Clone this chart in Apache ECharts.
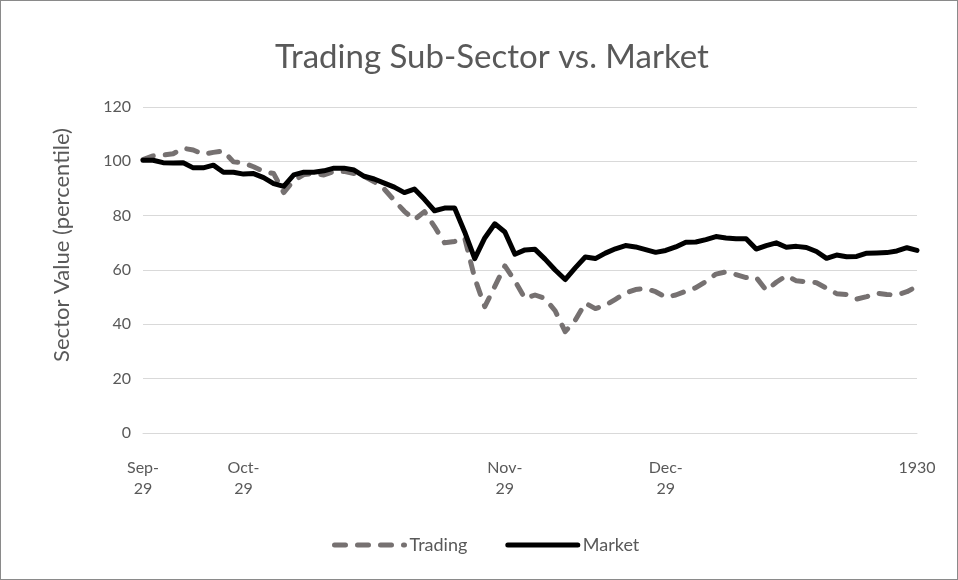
<!DOCTYPE html>
<html>
<head>
<meta charset="utf-8">
<script src="https://cdn.jsdelivr.net/npm/echarts@6/dist/echarts.min.js"></script>
<style>
  html, body { margin: 0; padding: 0; background: #ffffff; }
  #chart { width: 956px; height: 578px; border: 1px solid #8a8a8a; }
</style>
</head>
<body>
<div id="chart"></div>
<script>
// daily index values, Sep 1929 - Jan 1930
const trading = [100.6, 102, 102.3, 102.8, 104.8, 104.2, 102.6, 103.3, 103.8, 99.8,
    99.4, 98, 96.3, 95.5, 88.5, 93, 95.1, 95.6, 95, 96.3,
    96.3, 95.5, 94.5, 92.5, 89.8, 85.6, 81.6, 78.5, 81.5, 76,
    70, 70.5, 71.8, 57, 46.5, 54, 61.5, 56, 49.5, 50.8,
    49.5, 45, 37.3, 41.5, 47.8, 45.8, 47, 49.2, 51.5, 52.8,
    53.2, 52, 50, 50.8, 52.2, 53.5, 55.8, 58.5, 59.3, 58.3,
    57.2, 57.3, 52.5, 55.5, 57.9, 56, 55.7, 55.3, 53.3, 51.3,
    51, 49.3, 50.2, 51.5, 51, 50.8, 52, 54];

const market = [100.4, 100.4, 99.5, 99.4, 99.5, 97.6, 97.6, 98.6, 96, 96,
    95.3, 95.5, 94, 91.8, 90.8, 95, 96, 96, 96.5, 97.5,
    97.5, 96.8, 94.5, 93.5, 92, 90.5, 88.5, 89.8, 86, 81.8,
    82.8, 82.8, 74, 64.2, 71.8, 77, 74, 65.8, 67.4, 67.6,
    64, 60, 56.5, 60.8, 64.8, 64.2, 66.2, 67.8, 69, 68.5,
    67.5, 66.5, 67.2, 68.5, 70.2, 70.3, 71.2, 72.3, 71.8, 71.5,
    71.5, 67.7, 69, 70, 68.4, 68.7, 68.3, 66.8, 64.3, 65.5,
    64.9, 65, 66.2, 66.3, 66.4, 67, 68.2, 67.2];

// only a few categories carry a label
const tickLabels = ['Sep-\n29', 'Oct-\n29', 'Nov-\n29', 'Dec-\n29', '1930'];
const tickIndex = [0, 10, 36, 52, 77];

const categories = market.map((v, i) => {
    const k = tickIndex.indexOf(i);
    return k === -1 ? '' : tickLabels[k];
});

const textColor = '#595959';
const fontFamily = 'Lato, "Open Sans", sans-serif';

const chart = echarts.init(document.getElementById('chart'));

const option = {
    backgroundColor: '#ffffff',
    animation: false,
    textStyle: { fontFamily: fontFamily },
    title: {
        text: 'Trading Sub-Sector vs. Market',
        left: 486,
        textAlign: 'center',
        top: 35,
        textStyle: {
            color: textColor,
            fontSize: 33,
            fontWeight: 'normal',
            fontFamily: fontFamily
        }
    },
    legend: {
        bottom: 20,
        left: 326,
        itemGap: 38,
        itemWidth: 70,
        itemHeight: 14,
        itemStyle: { opacity: 0 },
        lineStyle: { width: 5, cap: 'round' },
        textStyle: { color: textColor, fontSize: 18 },
        data: ['Trading', 'Market']
    },
    grid: {
        left: 142,
        right: 40,
        top: 106,
        bottom: 146
    },
    xAxis: {
        type: 'category',
        data: categories,
        boundaryGap: false,
        axisLine: { lineStyle: { color: '#d9d9d9', width: 1 } },
        axisTick: { show: false },
        axisLabel: {
            interval: 0,
            color: textColor,
            fontSize: 16,
            lineHeight: 21,
            margin: 24
        },
        splitLine: { show: false }
    },
    yAxis: {
        type: 'value',
        min: 0,
        max: 120,
        interval: 20,
        name: 'Sector Value (percentile)',
        nameLocation: 'middle',
        nameGap: 70,
        nameTextStyle: { color: textColor, fontSize: 22, padding: [0, 0, 0, 50] },
        axisLine: { show: false },
        axisTick: { show: false },
        axisLabel: { color: textColor, fontSize: 16, margin: 12 },
        splitLine: { lineStyle: { color: '#d9d9d9', width: 1 } }
    },
    series: [
        {
            name: 'Trading',
            type: 'line',
            data: trading,
            symbol: 'none',
            lineStyle: {
                color: '#767171',
                width: 5,
                type: [11, 12],
                cap: 'round',
                join: 'round'
            },
            itemStyle: { color: '#767171' }
        },
        {
            name: 'Market',
            type: 'line',
            data: market,
            symbol: 'none',
            lineStyle: {
                color: '#000000',
                width: 5,
                cap: 'round',
                join: 'round'
            },
            itemStyle: { color: '#000000' }
        }
    ]
};

chart.setOption(option);
</script>
</body>
</html>
